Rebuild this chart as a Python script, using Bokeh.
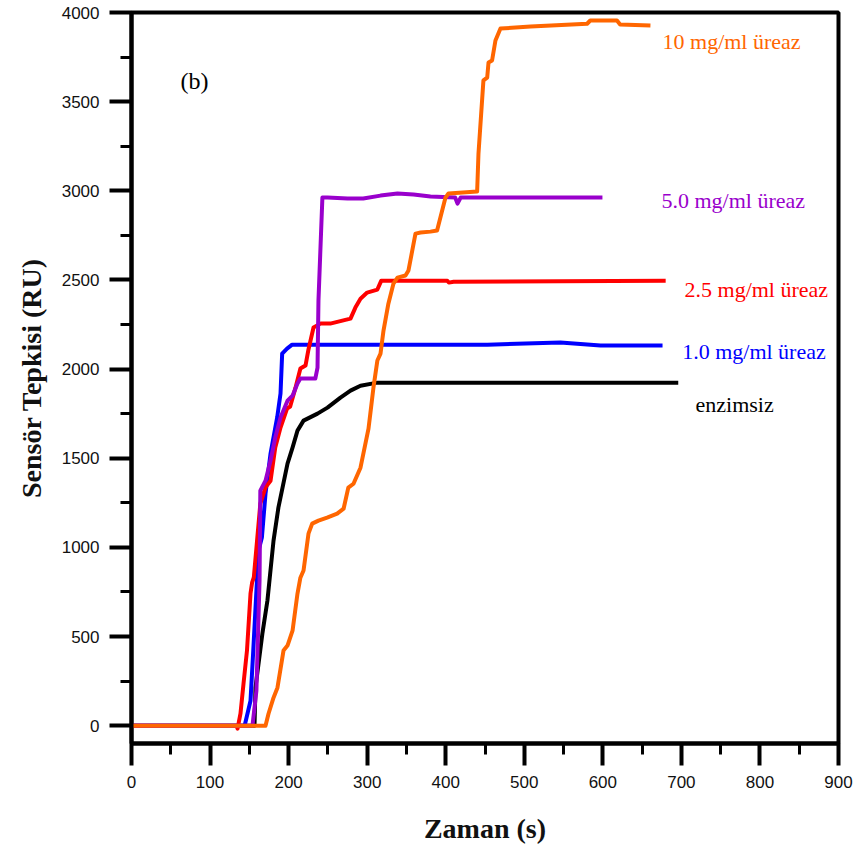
from bokeh.plotting import figure
from bokeh.models import Range1d, FixedTicker
from bokeh.core.properties import value
from bokeh.embed import file_html
from bokeh.resources import INLINE

# Sensor response (RU) versus time (s) for each urease concentration
t_none = [0, 156.6, 157.8, 166.8, 173, 180.8, 187, 198.6, 205, 211.3, 219, 236.8,
          249.5, 266, 278.8, 291.5, 313, 696]
r_none = [0, 0, 213, 522, 701, 1038, 1223, 1470, 1560, 1655, 1711, 1750,
          1784, 1840, 1879, 1907, 1924, 1924]

t_1 = [0, 144, 151.5, 155, 161.7, 166, 170.6, 177, 185.5, 189.7, 191.8, 198, 204.5,
       453, 546, 597, 676]
r_1 = [0, 0, 140, 421, 982, 1056, 1302, 1526, 1730, 1863, 2087, 2115, 2137,
       2137, 2149, 2132, 2132]

t_25 = [0, 133.7, 135, 138.7, 142.6, 147, 151.5, 153.6, 155.7, 164, 170.6, 177, 183,
        189.7, 198, 202, 208.8, 215, 221.5, 225, 231.7, 240.6, 253, 278.8, 285,
        291.5, 300, 313, 318, 402, 404, 410, 680]
r_25 = [0, 0, -17, 67, 236, 421, 741, 804, 832, 1245, 1337, 1374, 1560,
        1672, 1778, 1790, 1896, 2003, 2020, 2104, 2233, 2255, 2255, 2283, 2345,
        2395, 2429, 2446, 2496, 2496, 2485, 2490, 2496]

t_5 = [0, 154, 159, 163, 164, 170.6, 177, 183, 189.7, 198.6, 205, 211.3, 215, 234,
       236.8, 238, 243, 249.5, 275, 295, 317, 338.6, 359, 380.6, 412, 415, 419, 599.5]
r_5 = [0, 0, 196, 813, 1318, 1374, 1487, 1616, 1728, 1823, 1851, 1919, 1947, 1947,
       2008, 2384, 2962, 2962, 2957, 2957, 2973, 2985, 2979, 2968, 2962, 2928, 2962, 2962]

t_10 = [0, 170.6, 174.4, 180.8, 185.8, 193.5, 198.6, 205, 211.3, 215, 219, 225.3, 230,
        238, 249, 261.8, 270, 276, 282.6, 291.5, 301.7, 304, 308, 313, 317, 320.8,
        327, 333.5, 338.6, 348.8, 352.6, 361.5, 368, 380.6, 389, 399.7, 403.5, 440,
        441.7, 448, 452.8, 454.5, 459, 463.3, 469.7, 508, 580, 584, 618, 622, 660.6]
r_10 = [0, 0, 67, 157, 213, 421, 449, 533, 741, 830, 870, 1077, 1133,
        1150, 1167, 1189, 1217, 1335, 1357, 1447, 1666, 1750, 1896, 2048, 2087, 2216,
        2367, 2480, 2513, 2525, 2553, 2760, 2766, 2771, 2777, 2962, 2985, 2996,
        3209, 3619, 3635, 3720, 3731, 3843, 3910, 3921, 3937, 3955, 3955, 3933, 3927]

series_names = ["enzimsiz", "1.0 mg/ml üreaz", "2.5 mg/ml üreaz",
                "5.0 mg/ml üreaz", "10 mg/ml üreaz"]
series_t = [t_none, t_1, t_25, t_5, t_10]
series_r = [r_none, r_1, r_25, r_5, r_10]
series_colors = ["#000000", "#0000ff", "#ff0000", "#9900cc", "#ff6600"]

# label anchors (left edge, vertical centre) in data units
label_x = [718, 701, 704, 674.6, 676]
label_y = [1801, 2098, 2446, 2945, 3837]

x_ticks = list(range(0, 901, 100))
x_minor = list(range(50, 900, 100))
y_ticks = list(range(0, 4001, 500))
y_minor = list(range(250, 4000, 500))

p = figure(width=860, height=848, x_range=Range1d(0, 900), y_range=Range1d(-100, 4000),
           output_backend="svg", toolbar_location=None,
           min_border_left=131, min_border_right=22, min_border_top=12,
           min_border_bottom=105)

p.xgrid.visible = False
p.ygrid.visible = False
p.outline_line_color = "black"
p.outline_line_width = 4
p.background_fill_color = "white"
p.border_fill_color = "white"

for ax, ticks, minor in ((p.xaxis[0], x_ticks, x_minor), (p.yaxis[0], y_ticks, y_minor)):
    ax.ticker = FixedTicker(ticks=ticks, minor_ticks=minor)
    ax.axis_line_width = 4
    ax.axis_line_color = "black"
    ax.major_tick_line_width = 4
    ax.major_tick_line_color = "black"
    ax.minor_tick_line_width = 3
    ax.minor_tick_line_color = "black"
    ax.major_tick_in = 0
    ax.major_tick_out = 22
    ax.minor_tick_in = 0
    ax.minor_tick_out = 11
    ax.major_label_text_font = "Liberation Sans"
    ax.major_label_text_font_size = "17px"
    ax.major_label_text_color = "#111111"
    ax.major_label_standoff = 10
    ax.axis_label_text_font = "Liberation Serif"
    ax.axis_label_text_font_style = "bold"
    ax.axis_label_text_font_size = "28px"
    ax.axis_label_text_color = "#111111"

p.xaxis.axis_label = "Zaman (s)"
p.yaxis.axis_label = "Sensör Tepkisi (RU)"
p.xaxis.axis_label_standoff = 22
p.yaxis.axis_label_standoff = 12

for t, r, c in zip(series_t, series_r, series_colors):
    p.line(t, r, line_color=c, line_width=4, line_join="round")

p.text(x=label_x, y=label_y, text=series_names, text_color=series_colors,
       text_font=value("Liberation Serif"), text_font_size="22px",
       text_align="left", text_baseline="middle")

p.text(x=[62.4], y=[3618], text=["(b)"], text_color="black",
       text_font=value("Liberation Serif"), text_font_size="24px",
       text_align="left", text_baseline="middle")

open("out.html", "w").write(file_html(p, INLINE))
